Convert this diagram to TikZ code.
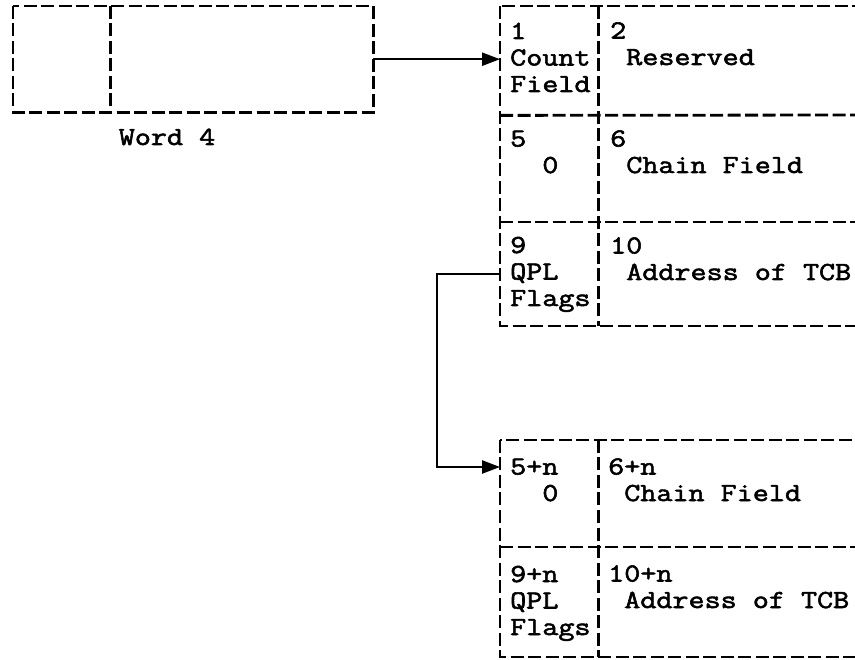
\documentclass[tikz,border=0pt]{standalone}
\usepackage{fontspec}
\setmonofont{Latin Modern Mono}[FakeStretch=1.2, FakeBold=2.2]
\usetikzlibrary{arrows.meta}

\begin{document}
\begin{tikzpicture}[x=1pt, y=-1pt,
	every node/.style={font=\ttfamily\fontsize{26}{26.5}\selectfont},
	txt/.style={anchor=base west, align=left, inner sep=0pt},
	cell/.style={anchor=north west, inner sep=0pt, minimum width=#1},
	box/.style={line width=2.8pt, dash pattern=on 13pt off 4.5pt},
	arr/.style={line width=2.4pt, -{Triangle[length=18pt, width=13pt]}}]
	\clip (0,0) rectangle (855,660);
	% word 4
	\node[cell=97, minimum height=106] (wa) at (13,6) {};
	\node[cell=263, minimum height=106] (wb) at (110,6) {};
	\draw[box] (wa.north west) rectangle (wb.south east);
	\draw[box] (wa.north east) -- (wa.south east);
	\node[anchor=base] (w4) at (167,145) {Word 4};
	% first element
	\node[cell=98, minimum height=109] (c1) at (500,6) {};
	\node[cell=98, minimum height=107] (c5) at (500,115) {};
	\node[cell=98, minimum height=104] (c9) at (500,222) {};
	\draw[box] (c1.north west) rectangle (870,326);
	\draw[box] (c1.north east) -- (c9.south east);
	\draw[box] (c1.south west) -- (870,115);
	\draw[box] (c9.north west) -- (870,222);
	\node[txt] (n1) at (510,92) {1\\Count\\Field};
	\node[txt] (n2) at (610,65) {2\\\phantom{0}Reserved};
	\node[txt] (n5) at (510,173) {5\\\phantom{00}0};
	\node[txt] (n6) at (610,173) {6\\\phantom{0}Chain Field};
	\node[txt] (n9) at (510,306) {9\\QPL\\Flags};
	\node[txt] (n10) at (610,280) {10\\\phantom{0}Address of TCB};
	% second element
	\node[cell=98, minimum height=107] (d5) at (500,440) {};
	\node[cell=98, minimum height=110] (d9) at (500,547) {};
	\draw[box] (d5.north west) rectangle (870,657);
	\draw[box] (d5.north east) -- (d9.south east);
	\draw[box] (d9.north west) -- (870,547);
	\node[txt] (m5) at (510,501) {5+n\\\phantom{00}0};
	\node[txt] (m6) at (608,501) {6+n\\\phantom{0}Chain Field};
	\node[txt] (m9) at (510,635) {9+n\\QPL\\Flags};
	\node[txt] (m10) at (608,608) {10+n\\\phantom{0}Address of TCB};
	% pointers
	\coordinate (bend) at (437,0);
	\draw[arr] (wb.east) -- (wb.east -| c1.west);
	\draw[arr] (c9.west) -- (c9.west -| bend) |- ([yshift=-27pt]d5.north west);
\end{tikzpicture}
\end{document}
